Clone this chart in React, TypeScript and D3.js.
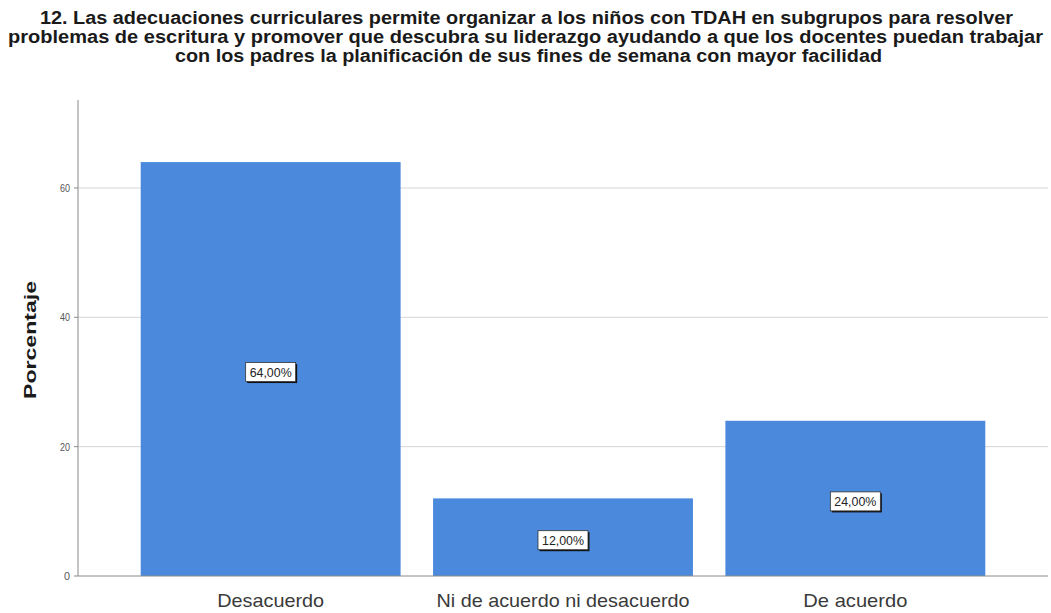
import React from 'react'
import * as d3 from 'd3'

const categories = ['Desacuerdo', 'Ni de acuerdo ni desacuerdo', 'De acuerdo']
const percentages = [64, 12, 24]
const barLabels = ['64,00%', '12,00%', '24,00%']
const yTicks = [0, 20, 40, 60]
const titleLines = [
  '12. Las adecuaciones curriculares permite organizar a los niños con TDAH en subgrupos para resolver',
  'problemas de escritura y promover que descubra su liderazgo ayudando a que los docentes puedan trabajar',
  'con los padres la planificación de sus fines de semana con mayor facilidad',
]

const W = 1051
const H = 613
const left = 78
const right = 1048
const top = 100
const bottom = 576

// title line extents and x label widths
const titleSpans = [[40, 1013], [8, 1043], [175, 882]]
const catWidths = [107, 253, 104]

export default function App() {
  const x = d3.scaleBand<string>()
    .domain(categories)
    .range([left, right])
    .paddingInner(0.111)
    .paddingOuter(0.2145)

  const y = d3.scaleLinear().domain([0, 73.6]).range([bottom, top])

  return (
    <svg width={W} height={H} style={{ position: 'absolute', left: 0, top: 0, background: '#fff' }}
      fontFamily="'Liberation Sans', Arial, sans-serif">
      {titleLines.map((t, i) => (
        <text key={i} x={(titleSpans[i][0] + titleSpans[i][1]) / 2} y={24 + i * 19}
          textAnchor="middle" fontSize={17.5} fontWeight="bold" fill="#1a1a1a"
          textLength={titleSpans[i][1] - titleSpans[i][0]} lengthAdjust="spacingAndGlyphs">{t}</text>
      ))}

      {yTicks.filter(t => t > 0).map(t => (
        <line key={t} x1={left} x2={right} y1={y(t)} y2={y(t)} stroke="#d6d6d6" strokeWidth={1} />
      ))}

      {categories.map((c, i) => (
        <rect key={c} x={x(c)} y={y(percentages[i])} width={x.bandwidth()}
          height={bottom - y(percentages[i])} fill="#4a89dc" />
      ))}

      <line x1={left} x2={left} y1={top} y2={bottom} stroke="#8a8a8a" />
      <line x1={left} x2={right} y1={bottom} y2={bottom} stroke="#8a8a8a" />

      {yTicks.map(t => (
        <g key={t}>
          <line x1={left - 4} x2={left} y1={y(t)} y2={y(t)} stroke="#8a8a8a" />
          <text x={left - 8} y={y(t) + 4} textAnchor="end" fontSize={11} fill="#555"
            textLength={t === 0 ? 6 : 10} lengthAdjust="spacingAndGlyphs">{t}</text>
        </g>
      ))}

      <text transform={`translate(36, 340) rotate(-90)`} textAnchor="middle" fontSize={17}
        fontWeight="bold" fill="#1a1a1a" textLength={118} lengthAdjust="spacingAndGlyphs">Porcentaje</text>

      {categories.map((c, i) => {
        const cx = x(c)! + x.bandwidth() / 2
        const cy = (y(percentages[i]) + bottom) / 2 + 3
        const bw = 50
        const bh = 19
        return (
          <g key={c}>
            <rect x={cx - bw / 2 + 1.5} y={cy - bh / 2 + 1.5} width={bw} height={bh} fill="#111" />
            <rect x={cx - bw / 2} y={cy - bh / 2} width={bw} height={bh} fill="#fff" stroke="#333" strokeWidth={0.8} />
            <text x={cx} y={cy + 4.5} textAnchor="middle" fontSize={13} fill="#222"
              textLength={42} lengthAdjust="spacingAndGlyphs">{barLabels[i]}</text>
            <text x={cx} y={607} textAnchor="middle" fontSize={19} fill="#3a3a3a"
              textLength={catWidths[i]} lengthAdjust="spacingAndGlyphs">{c}</text>
          </g>
        )
      })}
    </svg>
  )
}
